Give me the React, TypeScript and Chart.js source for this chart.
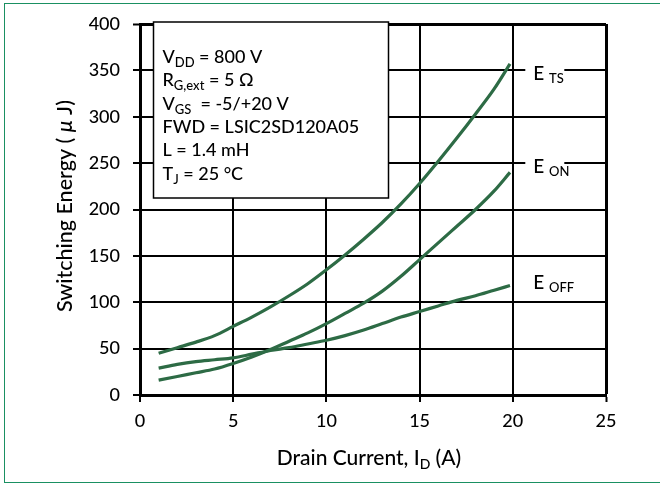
import { useEffect, useRef } from "react";
import { Chart, registerables } from "chart.js";

Chart.register(...registerables);

const currents = [1, 2, 3, 4, 5, 6, 7, 8, 9, 10, 11, 12, 13, 14, 15, 16, 17, 18, 19, 19.85];
const eTS = [45, 51, 57, 64, 74, 84, 95, 107, 120, 135, 151, 168, 186, 206, 228, 252, 277, 303, 330, 357];
const eON = [16, 20, 24, 28, 34, 41, 49, 58, 67, 77, 88, 99, 112, 128, 146, 164, 182, 200, 220, 240];
const eOFF = [29, 33, 36, 38, 40, 44, 48, 51, 55, 59, 64, 70, 77, 84, 90, 96, 102, 107, 113, 118];

const xTickStep = 5;
const yTickStep = 50;

type Part = { t: string; sub?: boolean; italic?: boolean };

const legendLines: Part[][] = [
  [{ t: "V" }, { t: "DD", sub: true }, { t: " = 800 V" }],
  [{ t: "R" }, { t: "G,ext", sub: true }, { t: " = 5 Ω" }],
  [{ t: "V" }, { t: "GS", sub: true }, { t: "  = -5/+20 V" }],
  [{ t: "FWD = LSIC2SD120A05" }],
  [{ t: "L = 1.4 mH" }],
  [{ t: "T" }, { t: "J", sub: true }, { t: " = 25 °C" }],
];

const seriesLabels: { parts: Part[]; value: number; bg: boolean }[] = [
  { parts: [{ t: "E " }, { t: "TS", sub: true }], value: 350, bg: true },
  { parts: [{ t: "E " }, { t: "ON", sub: true }], value: 250, bg: true },
  { parts: [{ t: "E " }, { t: "OFF", sub: true }], value: 125, bg: false },
];

const xTitle: Part[] = [{ t: "Drain Current, I" }, { t: "D", sub: true }, { t: " (A)" }];
const yTitle: Part[] = [{ t: "Switching Energy ( " }, { t: "μ", italic: true }, { t: " J)" }];

const FONT = "Lato";
const WEIGHT = 500;
const LINE = "#2d6b45";

function setFont(ctx: CanvasRenderingContext2D, p: Part, size: number, subSize: number) {
  ctx.font = `${p.italic ? "italic " : ""}${WEIGHT} ${p.sub ? subSize : size}px ${FONT}`;
}

function measureParts(ctx: CanvasRenderingContext2D, parts: Part[], size: number, subSize: number) {
  let w = 0;
  for (const p of parts) {
    setFont(ctx, p, size, subSize);
    w += ctx.measureText(p.t).width;
  }
  return w;
}

function drawParts(
  ctx: CanvasRenderingContext2D,
  parts: Part[],
  x: number,
  y: number,
  size: number,
  subSize: number,
  subDy: number
) {
  ctx.textAlign = "left";
  ctx.textBaseline = "alphabetic";
  let cx = x;
  for (const p of parts) {
    setFont(ctx, p, size, subSize);
    ctx.fillText(p.t, cx, p.sub ? y + subDy : y);
    cx += ctx.measureText(p.t).width;
  }
}

const overlayPlugin = {
  id: "overlay",
  afterDraw(chart: any) {
    const ctx: CanvasRenderingContext2D = chart.ctx;
    const ys = chart.scales.y;
    const xs = chart.scales.x;
    ctx.save();
    ctx.fillStyle = "#000";

    // legend box
    const bx = xs.left + 13.5, by = ys.top - 2, bw = 235, bh = 176;
    ctx.fillStyle = "#fff";
    ctx.fillRect(bx, by, bw, bh);
    ctx.strokeStyle = "#000";
    ctx.lineWidth = 1.5;
    ctx.strokeRect(bx, by, bw, bh);
    ctx.fillStyle = "#000";
    legendLines.forEach((line, i) => {
      drawParts(ctx, line, bx + 9, by + 41 + i * 23.3, 18, 13, 4);
    });

    // series labels
    const lx = xs.getPixelForValue(21.1);
    for (const s of seriesLabels) {
      const py = ys.getPixelForValue(s.value);
      const base = py + 9.5;
      if (s.bg) {
        ctx.fillStyle = "#fff";
        ctx.fillRect(lx - 8, py - 4, 39, 8);
      }
      ctx.fillStyle = "#000";
      drawParts(ctx, s.parts, lx, base, 19, 13, 3);
    }

    // x title
    const xw = measureParts(ctx, xTitle, 21, 14);
    const xc = 369;
    drawParts(ctx, xTitle, xc - xw / 2, 465, 21, 14, 4);

    // y title
    const yw = measureParts(ctx, yTitle, 21.5, 14);
    ctx.translate(71.5, 206);
    ctx.rotate(-Math.PI / 2);
    drawParts(ctx, yTitle, -yw / 2, 0, 21.5, 14, 4);
    ctx.restore();
  },
};

export default function App() {
  const ref = useRef<HTMLCanvasElement | null>(null);

  useEffect(() => {
    document.body.style.margin = "0";
    const canvas = ref.current;
    if (!canvas) return;
    const mk = (label: string, vals: number[]) => ({
      label,
      data: currents.map((x, i) => ({ x, y: vals[i] })),
      borderColor: LINE,
      backgroundColor: LINE,
      borderWidth: 3.2,
      pointRadius: 0,
      cubicInterpolationMode: "monotone" as const,
      fill: false,
    });
    const gridW = (ctx: any) => (ctx.tick && (ctx.tick.value === 400 || ctx.tick.value === 25) ? 3 : 2);
    const chart = new Chart(canvas, {
      type: "line",
      data: {
        datasets: [mk("E TS", eTS), mk("E ON", eON), mk("E OFF", eOFF)],
      },
      options: {
        animation: false,
        responsive: false,
        devicePixelRatio: 1,
        layout: { padding: { top: 24, right: 54, left: 0, bottom: 0 } },
        plugins: { legend: { display: false }, tooltip: { enabled: false } },
        scales: {
          x: {
            type: "linear",
            min: 0,
            max: 25,
            afterFit: (s: any) => {
              s.height = 88;
            },
            ticks: {
              stepSize: xTickStep,
              color: "#000",
              font: { family: FONT, size: 18, weight: WEIGHT },
              padding: 8,
              maxRotation: 0,
            },
            grid: { color: "#000", lineWidth: gridW, tickLength: 7, tickColor: "#000", tickWidth: 2 },
            border: { display: true, color: "#000", width: 3 },
          },
          y: {
            type: "linear",
            min: 0,
            max: 400,
            afterFit: (s: any) => {
              s.width = 140;
            },
            ticks: {
              stepSize: yTickStep,
              color: "#000",
              font: { family: FONT, size: 18, weight: WEIGHT },
              padding: 13,
            },
            grid: { color: "#000", lineWidth: gridW, tickLength: 7, tickColor: "#000", tickWidth: 2 },
            border: { display: true, color: "#000", width: 3 },
          },
        },
      },
      plugins: [overlayPlugin],
    });
    return () => chart.destroy();
  }, []);

  return (
    <div style={{ position: "fixed", left: 0, top: 0, width: 660, height: 483, background: "#fff", overflow: "hidden" }}>
      <div
        style={{
          position: "absolute",
          left: 4,
          top: 3,
          width: 700,
          height: 478,
          borderLeft: "1px solid #1a9062",
          borderTop: "1px solid #1a9062",
          borderBottom: "1px solid #1a9062",
        }}
      />
      <canvas ref={ref} width={660} height={483} style={{ position: "absolute", left: 0, top: 0, width: 660, height: 483 }} />
    </div>
  );
}
